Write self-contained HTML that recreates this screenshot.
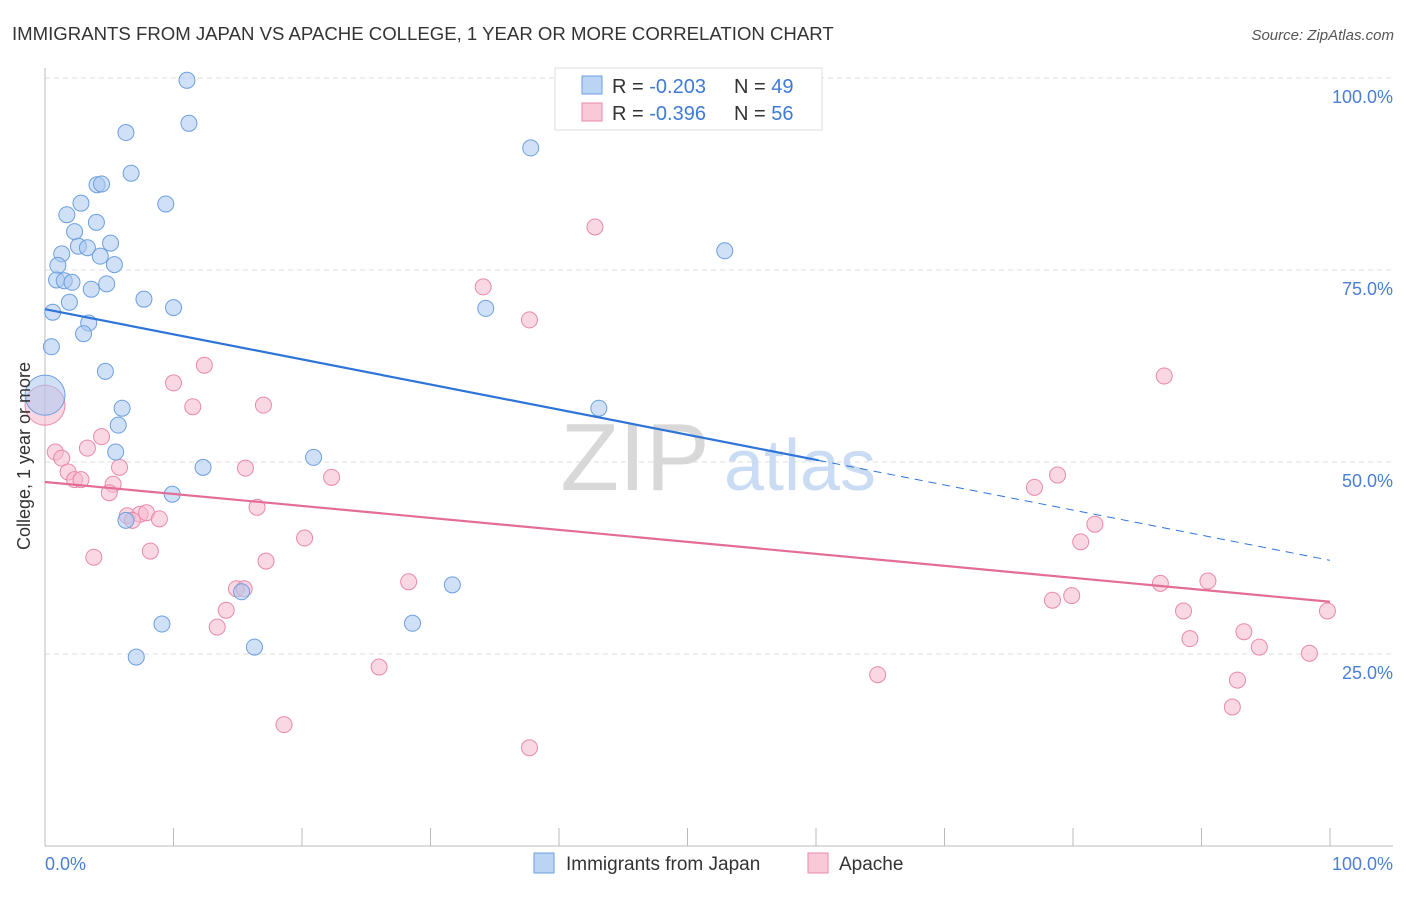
<!DOCTYPE html>
<html><head><meta charset="utf-8"><style>
body{margin:0;background:#fff;font-family:"Liberation Sans",sans-serif;}
svg text{font-family:"Liberation Sans",sans-serif;}
</style></head><body>
<svg id="chart" width="1406" height="892" viewBox="0 0 1406 892" xmlns="http://www.w3.org/2000/svg">
<text x="12" y="40" font-size="18.6" fill="#333">IMMIGRANTS FROM JAPAN VS APACHE COLLEGE, 1 YEAR OR MORE CORRELATION CHART</text>
<text x="1394" y="40" font-size="15" fill="#555" text-anchor="end" font-style="italic">Source: ZipAtlas.com</text>
<g id="grid"></g>
<g>
<text x="635" y="490" font-size="96" fill="#d8d8d8" font-family="Liberation Serif" text-anchor="middle">ZIP</text>
<text x="800" y="490" font-size="72" fill="#c9dcf3" text-anchor="middle">atlas</text>
</g>
<g id="ticks"></g>
<line x1="45" y1="68" x2="45" y2="846" stroke="#bbb"/>
<line x1="45" y1="846" x2="1393" y2="846" stroke="#bbb"/>
<g id="marks"></g>
<text x="30" y="456" font-size="18" fill="#333" text-anchor="middle" transform="rotate(-90 30 456)">College, 1 year or more</text>
<text x="45" y="870" font-size="18" fill="#4a7fd4">0.0%</text>
<text x="1393" y="870" font-size="18" fill="#4a7fd4" text-anchor="end">100.0%</text>
<g>
<rect x="555" y="68" width="267" height="62" fill="#fff" stroke="#ddd"/>
<rect x="582" y="76" width="20" height="18" fill="#bcd4f4" stroke="#6c9fe0"/>
<text x="612" y="93" font-size="20" fill="#333">R = <tspan fill="#3f7ad6">-0.203</tspan></text>
<text x="734" y="93" font-size="20" fill="#333">N = <tspan fill="#3f7ad6">49</tspan></text>
<rect x="582" y="103" width="20" height="18" fill="#f9c9d8" stroke="#e98aa8"/>
<text x="612" y="120" font-size="20" fill="#333">R = <tspan fill="#3f7ad6">-0.396</tspan></text>
<text x="734" y="120" font-size="20" fill="#333">N = <tspan fill="#3f7ad6">56</tspan></text>
</g>
<g>
<rect x="534" y="853" width="20" height="20" fill="#bcd4f4" stroke="#6c9fe0"/>
<text x="566" y="870" font-size="19" fill="#333">Immigrants from Japan</text>
<rect x="808" y="853" width="20" height="20" fill="#f9c9d8" stroke="#e98aa8"/>
<text x="839" y="870" font-size="19" fill="#333">Apache</text>
</g>
</svg>
<script>
const yTicks=[25,50,75,100];
const xTickCount=[10,20,30,40,50,60,70,80,90,100];
const japanX=[11.05,6.3,11.2,6.7,4.05,4.4,9.4,2.8,1.7,4.0,2.3,5.1,2.6,3.3,1.3,4.3,1.0,5.4,0.9,1.5,2.1,4.8,3.6,7.7,1.9,10.0,0.6,3.4,3.0,0.5,4.7,0.0,6.0,5.7,5.5,12.3,20.9,9.9,6.3,15.3,31.7,9.1,28.6,16.3,7.1,37.8,52.9,34.3,43.1];
const japanY=[99.7,92.9,94.1,87.6,86.1,86.2,83.6,83.7,82.2,81.2,80.0,78.5,78.1,77.9,77.1,76.8,75.6,75.7,73.7,73.6,73.4,73.2,72.5,71.2,70.8,70.1,69.5,68.1,66.7,65.0,61.8,58.7,57.0,54.8,51.3,49.3,50.6,45.8,42.4,33.1,34.0,28.9,29.0,25.9,24.6,90.9,77.5,70.0,57.0];
const apacheX=[0,42.8,34.1,37.7,12.4,10.0,87.1,11.5,17.0,0.8,1.3,4.4,3.3,5.8,1.8,2.3,2.8,15.6,22.3,5.3,5.0,78.8,77.0,16.5,6.4,7.4,7.9,8.9,6.8,81.7,80.6,20.2,8.2,3.8,17.2,28.3,86.8,90.5,14.9,15.5,14.1,78.4,79.9,88.6,99.8,13.4,89.1,93.3,94.5,98.4,26.0,64.8,92.8,18.6,92.4,37.7];
const apacheY=[57.4,80.6,72.8,68.5,62.6,60.3,61.2,57.2,57.4,51.3,50.5,53.3,51.8,49.3,48.7,47.7,47.7,49.2,48.0,47.1,46.0,48.3,46.7,44.1,43.0,43.2,43.4,42.6,42.4,41.9,39.6,40.1,38.4,37.6,37.1,34.4,34.2,34.5,33.5,33.5,30.7,32.0,32.6,30.6,30.6,28.5,27.0,27.9,25.9,25.1,23.3,22.3,21.6,15.8,18.1,12.8];
const japanTrend=[69.9,37.2]; const japanSolidEnd=60.2;
const apacheTrend=[47.4,31.8];
const NS='http://www.w3.org/2000/svg';
const sx=v=>45+v*12.85, sy=v=>846-v*7.68;
function mk(t,a,p){const e=document.createElementNS(NS,t);for(const k in a)e.setAttribute(k,a[k]);p.appendChild(e);return e;}
const grid=document.getElementById('grid'),ticks=document.getElementById('ticks'),marks=document.getElementById('marks');
yTicks.forEach(v=>{
 const l=mk('line',{x1:45,x2:1393,y1:sy(v),y2:sy(v),stroke:'#ddd','stroke-dasharray':'5,4'},grid);
 
 
 const t=mk('text',{x:1393,y:sy(v)+25,'font-size':18,fill:'#4a7fd4','text-anchor':'end'},grid);
 t.textContent=v.toFixed(1)+'%';
 
 
});
xTickCount.forEach(v=>{
 const l=mk('line',{x1:sx(v),x2:sx(v),y1:828,y2:846,stroke:'#bbb'},ticks);
 
 
});
function dots(xs,ys,fill,stroke,name){
 xs.forEach((x,i)=>{
  const big=(x===0);
  const c=mk('circle',{cx:sx(x),cy:sy(ys[i]),r:big?20:8,fill:fill,'fill-opacity':0.55,stroke:stroke,'stroke-width':1},marks);
  
  
 });
}
dots(apacheX,apacheY,'#f5b8cc','#e98aa8','apache-point');
dots(japanX,japanY,'#a9c8f0','#6c9fe0','japan-point');
const at=(tr,x)=>tr[0]+(tr[1]-tr[0])*x/100;
let l=mk('line',{x1:sx(0),y1:sy(at(japanTrend,0)),x2:sx(japanSolidEnd),y2:sy(at(japanTrend,japanSolidEnd)),stroke:'#2f74d8','stroke-width':2.2},marks);


l=mk('line',{x1:sx(japanSolidEnd),y1:sy(at(japanTrend,japanSolidEnd)),x2:sx(100),y2:sy(at(japanTrend,100)),stroke:'#2f74d8','stroke-width':1,'stroke-dasharray':'8,6'},marks);


l=mk('line',{x1:sx(0),y1:sy(at(apacheTrend,0)),x2:sx(100),y2:sy(at(apacheTrend,100)),stroke:'#e36d96','stroke-width':2.2},marks);


</script>
</body></html>
